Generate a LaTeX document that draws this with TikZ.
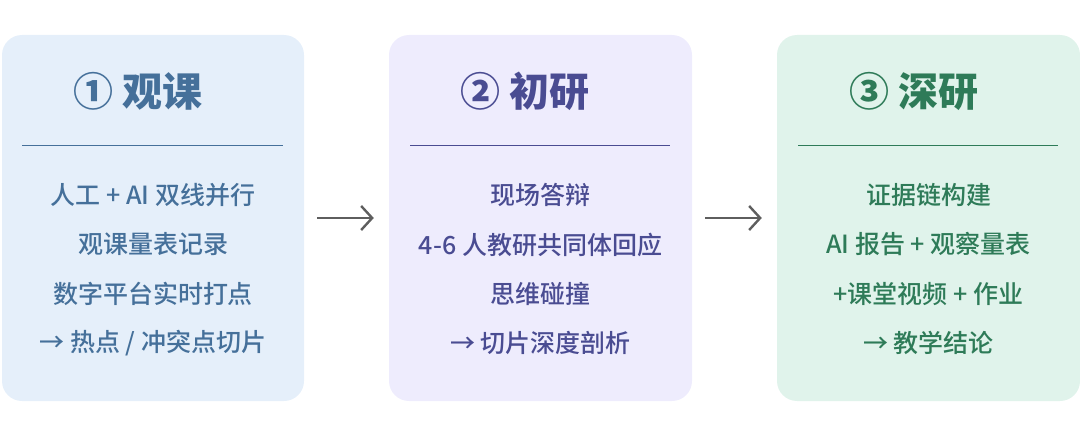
\documentclass[tikz,border=0pt]{standalone}
\usepackage{fontspec}
\setmainfont{Noto Sans CJK SC}
\newfontfamily\cjkmedium{Noto Sans CJK SC Medium}
\usetikzlibrary{arrows.meta}
\definecolor{fillA}{HTML}{E5EFFA}
\definecolor{fillB}{HTML}{EEECFD}
\definecolor{fillC}{HTML}{E0F3EB}
\definecolor{inkA}{HTML}{45709A}
\definecolor{inkB}{HTML}{4A4C92}
\definecolor{inkC}{HTML}{2E7B58}
\definecolor{arrowgrey}{HTML}{5E5E5E}
\tikzset{
  panel/.style={rounded corners=20pt, minimum width=303pt, minimum height=366pt, inner sep=0pt, draw=none},
  ptitle/.style={anchor=west, inner sep=0pt, font=\fontsize{40}{44}\selectfont\bfseries},
  pline/.style={inner sep=0pt, font=\cjkmedium\fontsize{25}{28}\selectfont},
  divider/.style={line width=1pt},
  flow/.style={draw=arrowgrey, line width=2.4pt, -{Straight Barb[length=11pt,width=24pt,line width=2.4pt]}}
}
\begin{document}
\begin{tikzpicture}[x=1pt,y=-1pt]
\useasboundingbox (0,0) rectangle (1080,436);
% panels
\node[panel, fill=fillA, minimum width=302pt] (p1) at (153,218) {};
\node[panel, fill=fillB] (p2) at (540.5,218) {};
\node[panel, fill=fillC] (p3) at (928.5,218) {};
% titles
\node[ptitle, text=inkA] (t1) at (73,91) {① 观课};
\node[ptitle, text=inkB] (t2) at (460,91) {② 初研};
\node[ptitle, text=inkC] (t3) at (849,91) {③ 深研};
% dividers
\coordinate (d1a) at (22,145.5); \coordinate (d1b) at (283,145.5);
\coordinate (d2a) at (410,145.5); \coordinate (d2b) at (670,145.5);
\coordinate (d3a) at (798,145.5); \coordinate (d3b) at (1058,145.5);
\draw[divider, draw=inkA] (d1a) -- (d1b);
\draw[divider, draw=inkB] (d2a) -- (d2b);
\draw[divider, draw=inkC] (d3a) -- (d3b);
% panel 1 lines
\node[pline, text=inkA] (a1) at (153,195) {人工 + AI 双线并行};
\node[pline, text=inkA] (a2) at (153,244.5) {观课量表记录};
\node[pline, text=inkA] (a3) at (153,294) {数字平台实时打点};
\node[pline, text=inkA] (a4) at (153,343) {→ 热点 / 冲突点切片};
% panel 2 lines
\node[pline, text=inkB] (b1) at (540.5,195) {现场答辩};
\node[pline, text=inkB] (b2) at (540.5,244.5) {4-6 人教研共同体回应};
\node[pline, text=inkB] (b3) at (540.5,294) {思维碰撞};
\node[pline, text=inkB] (b4) at (540.5,343) {→ 切片深度剖析};
% panel 3 lines
\node[pline, text=inkC] (c1) at (928.5,195) {证据链构建};
\node[pline, text=inkC] (c2) at (928.5,244.5) {AI 报告 + 观察量表};
\node[pline, text=inkC] (c3) at (928.5,294) {+课堂视频 + 作业};
\node[pline, text=inkC] (c4) at (928.5,343) {→ 教学结论};
% flow arrows
\draw[flow, shorten <=13pt, shorten >=15pt] (p1.east) -- (p2.west);
\draw[flow, shorten <=13pt, shorten >=15pt] (p2.east) -- (p3.west);
\end{tikzpicture}
\end{document}
